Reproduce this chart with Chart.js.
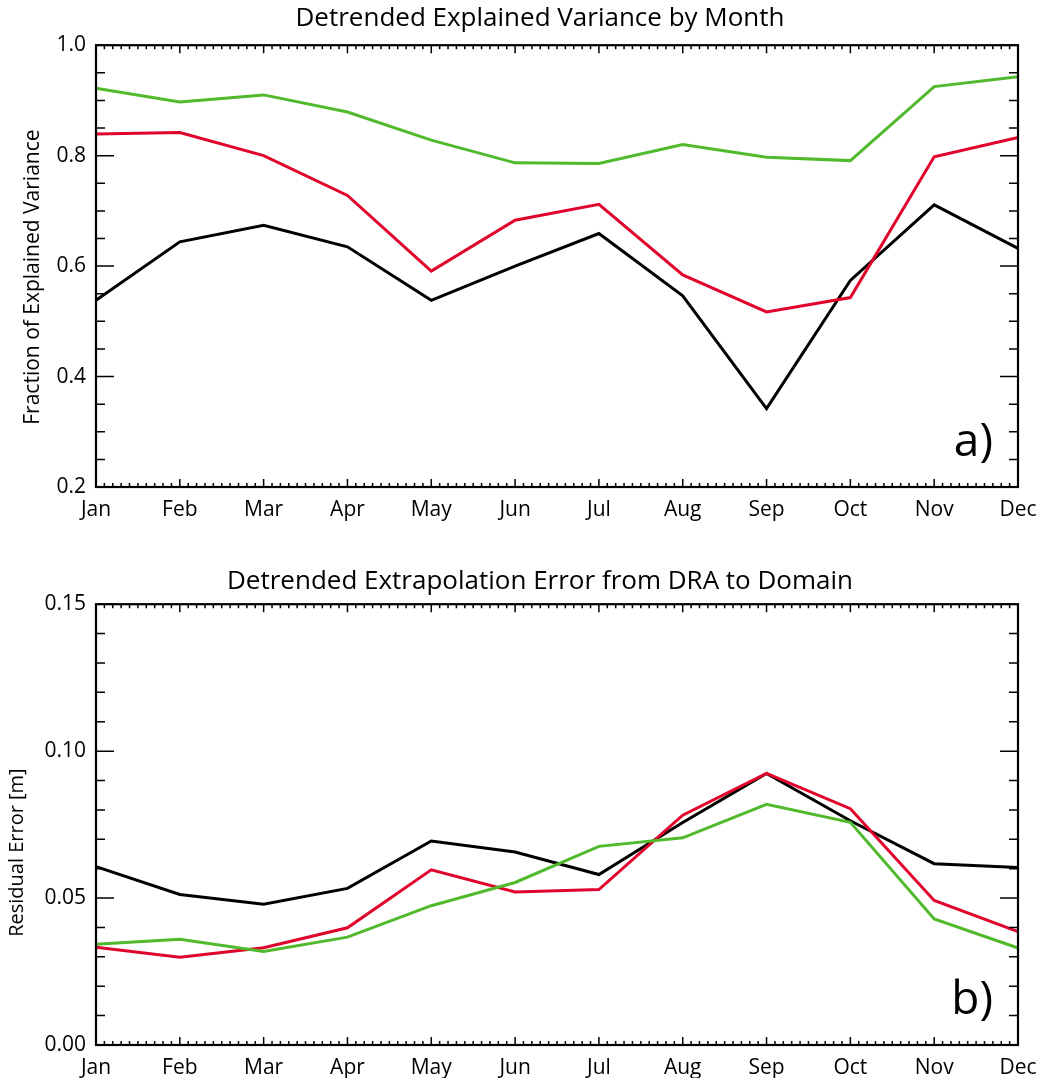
<!DOCTYPE html>
<html>
<head>
<meta charset="utf-8">
<title>Detrended Explained Variance / Extrapolation Error</title>
<script src="https://cdn.jsdelivr.net/npm/chart.js@4.4.1/dist/chart.umd.min.js"></script>
<style>
  body { margin: 0; background: #fff; }
  canvas { display: block; }
</style>
</head>
<body>
<canvas id="varChart" width="1038" height="540"></canvas>
<canvas id="errChart" width="1038" height="538"></canvas>
<script>
// data
const months = ["Jan", "Feb", "Mar", "Apr", "May", "Jun", "Jul", "Aug", "Sep", "Oct", "Nov", "Dec"];

// panel a) fraction of explained variance
const varBlack = [0.538, 0.644, 0.674, 0.635, 0.538, 0.600, 0.659, 0.546, 0.342, 0.574, 0.711, 0.632];
const varRed = [0.839, 0.842, 0.800, 0.728, 0.591, 0.683, 0.712, 0.584, 0.517, 0.543, 0.798, 0.833];
const varGreen = [0.922, 0.897, 0.910, 0.879, 0.828, 0.787, 0.786, 0.820, 0.797, 0.791, 0.925, 0.943];
const varTicks = [0.2, 0.4, 0.6, 0.8, 1.0];

// panel b) residual error [m]
const errBlack = [0.0607, 0.0512, 0.0479, 0.0533, 0.0694, 0.0657, 0.0580, 0.0757, 0.0924, 0.0763, 0.0617, 0.0604];
const errRed = [0.0333, 0.0299, 0.0331, 0.0399, 0.0596, 0.0521, 0.0529, 0.0782, 0.0924, 0.0804, 0.0492, 0.0386];
const errGreen = [0.0343, 0.0360, 0.0318, 0.0367, 0.0474, 0.0553, 0.0676, 0.0705, 0.0819, 0.0758, 0.0429, 0.0330];
const errTicks = [0.00, 0.05, 0.10, 0.15];

const FONT = '"Open Sans", "Noto Sans", sans-serif';
const BLACK = "#000000";
const RED = "#e0042c";
const GREEN = "#50b92c";
const LEFT_PAD = 62; // pushes the centred title right, y axis box makes up the rest

// IDL style frame: box with inward ticks on all four sides, plus a panel letter
const framePlugin = {
  id: "frame",
  afterLayout(chart) {
    // let the y tick labels use the space left of the axis box (no clipping)
    chart.scales.y.left = 0;
  },
  afterDatasetsDraw(chart, args, opts) {
    const { ctx, chartArea: a, scales } = chart;
    const x = scales.x, y = scales.y;
    ctx.save();
    ctx.strokeStyle = "#000";
    ctx.lineWidth = 1.5;
    ctx.beginPath();
    // x ticks, 10 minor per month
    for (let i = 0; i < months.length; i++) {
      for (let k = 0; k < 10; k++) {
        if (i === months.length - 1 && k > 0) break;
        const px = x.getPixelForValue(i + k / 10);
        const len = k === 0 ? 8 : 4;
        ctx.moveTo(px, a.bottom); ctx.lineTo(px, a.bottom - len);
        ctx.moveTo(px, a.top); ctx.lineTo(px, a.top + len);
      }
    }
    // y ticks
    const steps = Math.round((y.max - y.min) / opts.minor);
    for (let j = 0; j <= steps; j++) {
      const v = y.min + j * opts.minor;
      const py = y.getPixelForValue(v);
      const isMajor = Math.abs(v / opts.major - Math.round(v / opts.major)) < 1e-6;
      const len = isMajor ? 18 : 9;
      ctx.moveTo(a.left, py); ctx.lineTo(a.left + len, py);
      ctx.moveTo(a.right, py); ctx.lineTo(a.right - len, py);
    }
    ctx.stroke();
    ctx.lineWidth = 2.2;
    ctx.strokeRect(a.left, a.top, a.right - a.left, a.bottom - a.top);

    // panel letter
    ctx.fillStyle = "#000";
    ctx.font = "46px " + FONT;
    ctx.textAlign = "right";
    ctx.textBaseline = "alphabetic";
    ctx.fillText(opts.letter, a.right - 25, a.bottom - 31);

    // y axis title
    ctx.font = opts.titleSize + "px " + FONT;
    ctx.textAlign = "center";
    ctx.textBaseline = "middle";
    ctx.translate(opts.titleX, (a.top + a.bottom) / 2 + opts.titleShift);
    ctx.rotate(-Math.PI / 2);
    ctx.fillText(opts.yTitle, 0, 0);
    ctx.restore();
  }
};

function lineSet(data, color) {
  return {
    data: data,
    borderColor: color,
    backgroundColor: color,
    borderWidth: 3,
    pointRadius: 0,
    tension: 0,
    fill: false,
    clip: 4
  };
}

function makeChart(id, title, sets, yMin, yMax, ticks, decimals, frameOpts, titlePad, layoutPad) {
  return new Chart(document.getElementById(id), {
    type: "line",
    data: {
      labels: months,
      datasets: sets
    },
    options: {
      responsive: false,
      animation: false,
      devicePixelRatio: 1,
      layout: { padding: layoutPad },
      plugins: {
        legend: { display: false },
        tooltip: { enabled: false },
        title: {
          display: true,
          text: title,
          color: "#000",
          font: { family: FONT, size: 26, weight: "normal", lineHeight: 1.2 },
          padding: titlePad
        },
        frame: frameOpts
      },
      scales: {
        x: {
          offset: false,
          grid: { display: false, drawTicks: false },
          border: { display: false },
          ticks: {
            color: "#000",
            font: { family: FONT, size: 21 },
            padding: 10,
            maxRotation: 0,
            autoSkip: false
          },
          afterFit: (s) => {
            s.height = 44;
            s.paddingLeft = 0;
            s.paddingRight = 0;
          }
        },
        y: {
          min: yMin,
          max: yMax,
          grid: { display: false, drawTicks: false },
          border: { display: false },
          afterBuildTicks: (s) => { s.ticks = ticks.map((v) => ({ value: v })); },
          ticks: {
            color: "#000",
            font: { family: FONT, size: 21 },
            padding: 10,
            callback: (v) => Number(v).toFixed(decimals)
          },
          afterFit: (s) => {
            s.width = 96 - LEFT_PAD;
            s.paddingTop = 0;
            s.paddingBottom = 0;
          }
        }
      }
    },
    plugins: [framePlugin]
  });
}

makeChart("varChart", "Detrended Explained Variance by Month",
  [lineSet(varGreen, GREEN), lineSet(varRed, RED), lineSet(varBlack, BLACK)],
  0.2, 1.0, varTicks, 1,
  { letter: "a)", yTitle: "Fraction of Explained Variance", titleX: 33, titleShift: 11, titleSize: 21, major: 0.2, minor: 0.05 },
  { top: 3, bottom: 11 },
  { left: LEFT_PAD, right: 20, top: 0, bottom: 9 });

makeChart("errChart", "Detrended Extrapolation Error from DRA to Domain",
  [lineSet(errGreen, GREEN), lineSet(errRed, RED), lineSet(errBlack, BLACK)],
  0.0, 0.15, errTicks, 2,
  { letter: "b)", yTitle: "Residual Error [m]", titleX: 17, titleShift: 28, titleSize: 20, major: 0.05, minor: 0.01 },
  { top: 26, bottom: 7 },
  { left: LEFT_PAD, right: 20, top: 0, bottom: -11 });
</script>
</body>
</html>
